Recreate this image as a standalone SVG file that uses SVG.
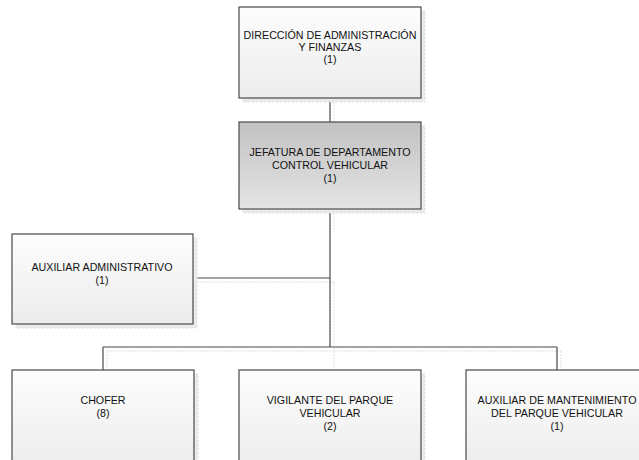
<svg xmlns="http://www.w3.org/2000/svg" width="639" height="460" viewBox="0 0 639 460">
<defs>
<linearGradient id="gw" x1="0" y1="0" x2="0" y2="1"><stop offset="0" stop-color="#fdfdfd"/><stop offset="1" stop-color="#ececec"/></linearGradient>
<linearGradient id="gg" x1="0" y1="0" x2="0" y2="1"><stop offset="0" stop-color="#c2c2c2"/><stop offset="1" stop-color="#e4e4e4"/></linearGradient>
</defs>
<style>
.sh{fill:#ebebeb;stroke:#dcdcdc;stroke-width:1;stroke-dasharray:2 2}
.bx{stroke:#4a4a4a;stroke-width:1.2}
.w{fill:url(#gw)}
.g{fill:url(#gg)}
.c{stroke:#4a4a4a;stroke-width:1.2;fill:none}
.cs{stroke:#e0e0e0;stroke-width:1;fill:none;stroke-dasharray:2 1}
text{font-family:"Liberation Sans",Arial,sans-serif;font-size:10.7px;fill:#111;text-anchor:middle}
</style>
<g id="connectors">
<path class="cs" d="M334 102V121 M334 213V234 M197 282H334 M334 282V370 M107 351H561 M107 351V370 M561 351V370"/>
<path class="c" d="M330 98V122 M330 209V347 M193 278H330 M103 347H557 M103 347V370 M557 347V370"/>
</g>
<g id="n1">
<rect class="sh" x="243" y="11" width="182" height="91"/>
<rect class="bx w" x="239" y="7" width="182" height="91"/>
<text x="330" y="39">DIRECCIÓN DE ADMINISTRACIÓN</text>
<text x="330" y="51">Y FINANZAS</text>
<text x="330" y="63">(1)</text>
</g>
<g id="n2">
<rect class="sh" x="243" y="126" width="182" height="87"/>
<rect class="bx g" x="239" y="122" width="182" height="87"/>
<text x="330" y="156">JEFATURA DE DEPARTAMENTO</text>
<text x="330" y="169">CONTROL VEHICULAR</text>
<text x="330" y="182">(1)</text>
</g>
<g id="n3">
<rect class="sh" x="16" y="238" width="181" height="90"/>
<rect class="bx w" x="12" y="234" width="181" height="90"/>
<text x="102" y="271">AUXILIAR ADMINISTRATIVO</text>
<text x="102" y="284">(1)</text>
</g>
<g id="n4">
<rect class="sh" x="16" y="374" width="182" height="100"/>
<rect class="bx w" x="12" y="370" width="182" height="100"/>
<text x="103" y="404">CHOFER</text>
<text x="103" y="417">(8)</text>
</g>
<g id="n5">
<rect class="sh" x="243" y="374" width="182" height="100"/>
<rect class="bx w" x="239" y="370" width="182" height="100"/>
<text x="330" y="404">VIGILANTE DEL PARQUE</text>
<text x="330" y="417">VEHICULAR</text>
<text x="330" y="430">(2)</text>
</g>
<g id="n6">
<rect class="sh" x="470" y="374" width="182" height="100"/>
<rect class="bx w" x="466" y="370" width="182" height="100"/>
<text x="557" y="404">AUXILIAR DE MANTENIMIENTO</text>
<text x="557" y="417">DEL PARQUE VEHICULAR</text>
<text x="557" y="430">(1)</text>
</g>
</svg>
